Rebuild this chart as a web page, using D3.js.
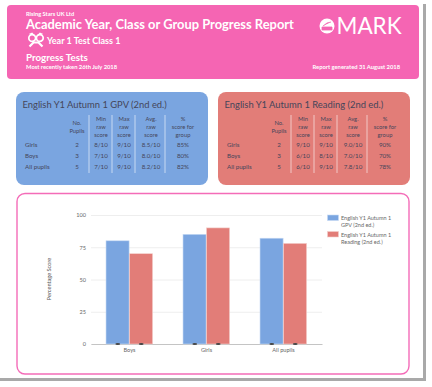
<!DOCTYPE html>
<html lang="en">
<head>
  <meta charset="UTF-8">
  <script src="https://d3js.org/d3.v7.min.js"></script>
  <title>Progress Report</title>
</head>
<body style="margin:0;background:#fff;overflow:hidden;">
  <div id="chart"></div>
  <script>
    // chart data
    const groups = ["Boys", "Girls", "All pupils"];
    const gpvScores = [80, 85, 82];
    const readingScores = [70, 90, 78];
    const yTicks = [0, 25, 50, 75, 100];
    const legendLines = [
      ["English Y1 Autumn 1", "GPV (2nd ed.)"],
      ["English Y1 Autumn 1", "Reading (2nd ed.)"]
    ];

    // table data
    const tableHead = [["No.", "Pupils"], ["Min", "raw", "score"], ["Max", "raw", "score"], ["Avg.", "raw", "score"], ["%", "score for", "group"]];
    const rowNames = ["Girls", "Boys", "All pupils"];
    const gpvRows = [
      ["2", "8/10", "9/10", "8.5/10", "85%"],
      ["3", "7/10", "9/10", "8.0/10", "80%"],
      ["5", "7/10", "9/10", "8.2/10", "82%"]
    ];
    const readingRows = [
      ["2", "9/10", "9/10", "9.0/10", "90%"],
      ["3", "6/10", "8/10", "7.0/10", "70%"],
      ["5", "6/10", "9/10", "7.8/10", "78%"]
    ];

    const font = "Lato, 'Noto Sans', sans-serif";
    const pink = "#f565b3";
    const blue = "#7aa5e0";
    const red = "#e27d78";
    const ink = "#45455a";

    const svg = d3.select("#chart").append("svg")
        .attr("width", 432)
        .attr("height", 387)
        .style("display", "block")
        .attr("font-family", font);

    // page shadow
    svg.append("rect").attr("x", 423).attr("y", 4).attr("width", 3).attr("height", 376).attr("fill", "#a9a9a9");
    svg.append("rect").attr("x", 0).attr("y", 378).attr("width", 426).attr("height", 3).attr("fill", "#a9a9a9");

    // header
    svg.append("rect").attr("x", 7).attr("y", 5).attr("width", 196 + 216).attr("height", 74).attr("rx", 4).attr("fill", pink);

    function label(parent, str, x, y, size, opts = {}) {
      return parent.append("text")
          .text(str)
          .attr("x", x)
          .attr("y", y)
          .attr("font-size", size + "px")
          .attr("font-weight", opts.weight || "normal")
          .attr("text-anchor", opts.anchor || "start")
          .attr("fill", opts.fill || "#fff");
    }

    label(svg, "Rising Stars UK Ltd", 26, 16, 5.7, {weight: "bold"});
    label(svg, "Academic Year, Class or Group Progress Report", 26, 28.5, 12.9, {weight: "bold"});
    label(svg, "Year 1 Test Class 1", 47, 44, 9, {weight: "bold"});
    label(svg, "Progress Tests", 26, 60.5, 9.8, {weight: "bold"});
    label(svg, "Most recently taken 26th July 2018", 26, 69, 5.8, {weight: "bold"});
    label(svg, "Report generated 31 August 2018", 400, 69, 5.8, {weight: "bold", anchor: "end"});
    label(svg, "MARK", 336.5, 33.5, 22.5);

    // logo mark
    svg.append("circle").attr("cx", 327).attr("cy", 26).attr("r", 7.5).attr("fill", "#fff");
    svg.append("path").attr("d", "M322 27h10v3h-10zM323 26l4-3 4-1").attr("fill", pink).attr("stroke", pink).attr("stroke-width", 0.8);

    // class icon, two heads
    const icon = svg.append("g").attr("transform", "translate(36,39)");
    [-3.8, 3.8].forEach(dx => {
      icon.append("circle").attr("cx", dx).attr("cy", -1).attr("r", 3.4).attr("fill", "none").attr("stroke", "#fff").attr("stroke-width", 1.7);
      icon.append("path").attr("d", `M${dx * 1.9} -5L${dx} -6.5L${dx * 0.2} -3Z`).attr("fill", "#fff");
    });
    icon.append("path").attr("d", "M-6.5 7.5L-2.5 3.5L2.5 3.5L6.5 7.5").attr("fill", "none").attr("stroke", "#fff").attr("stroke-width", 2.2);

    // score cards
    const colX = [61, 85, 108, 135, 167];
    const dividerX = [73, 96, 119, 149];
    const rowY = [147, 158, 169];

    function card(x, color, title, rows) {
      const g = svg.append("g").attr("transform", `translate(${x},0)`);
      g.append("rect").attr("x", 0).attr("y", 92).attr("width", 192).attr("height", 93).attr("rx", 8).attr("fill", color);
      label(g, title, 6.5, 108, 9.4, {fill: ink});
      tableHead.forEach((lines, i) => {
        lines.forEach((l, j) => {
          label(g, l, colX[i], (lines.length === 2 ? 125 : 121) + j * 8, 5.8, {fill: ink, anchor: "middle"});
        });
      });
      g.selectAll(".div").data(dividerX).join("line")
          .attr("x1", d => d).attr("x2", d => d)
          .attr("y1", 115).attr("y2", 173)
          .attr("stroke", "#fff").attr("stroke-opacity", 0.65).attr("stroke-width", 0.9);
      rowNames.forEach((n, r) => {
        label(g, n, 9, rowY[r], 6.2, {fill: ink});
        rows[r].forEach((v, i) => label(g, v, colX[i], rowY[r], 6.2, {fill: ink, anchor: "middle"}));
      });
    }
    card(16, blue, "English Y1 Autumn 1 GPV (2nd ed.)", gpvRows);
    card(218, red, "English Y1 Autumn 1 Reading (2nd ed.)", readingRows);

    // bar chart frame
    svg.append("rect").attr("x", 17).attr("y", 193.5).attr("width", 392).attr("height", 180.5).attr("rx", 8)
        .attr("fill", "#fff").attr("stroke", "#f46cb8").attr("stroke-width", 1.4);

    const x = d3.scaleBand().domain(groups).range([91, 322]).paddingInner(0.39).paddingOuter(0.195);
    const series = d3.scaleBand().domain([0, 1]).range([0, x.bandwidth()]);
    const y = d3.scaleLinear().domain([0, 100]).range([344, 215]);

    const yAxis = svg.append("g")
        .attr("transform", "translate(91,0)")
        .call(d3.axisLeft(y).tickValues(yTicks).tickSize(-231).tickPadding(5));
    yAxis.select(".domain").remove();
    yAxis.selectAll("line").attr("stroke", "#eeeeee");
    yAxis.selectAll("text").attr("font-size", "5.6px").attr("font-family", font).attr("fill", "#666");

    const xAxis = svg.append("g")
        .attr("transform", "translate(0,344)")
        .call(d3.axisBottom(x).tickSize(0).tickPadding(4));
    xAxis.select(".domain").attr("stroke", "#c4c4c4").attr("stroke-width", 1.2);
    xAxis.selectAll("text").attr("font-size", "5.6px").attr("font-family", font).attr("fill", "#666");

    [[gpvScores, blue, "#c6d9f3"], [readingScores, red, "#f3cfcc"]].forEach(([vals, fill, edge], s) => {
      const cx = i => x(groups[i]) + series(s);
      svg.append("g").selectAll("rect").data(vals).join("rect")
          .attr("x", (d, i) => cx(i))
          .attr("y", d => y(d))
          .attr("width", series.bandwidth() - 0.4)
          .attr("height", d => y(0) - y(d))
          .attr("fill", fill)
          .attr("stroke", edge)
          .attr("stroke-width", 0.6);
      // small marks on the baseline
      svg.append("g").selectAll("ellipse").data(vals).join("ellipse")
          .attr("cx", (d, i) => cx(i) + series.bandwidth() / 2)
          .attr("cy", y(0))
          .attr("rx", 2.4).attr("ry", 1)
          .attr("fill", "#444");
    });

    svg.append("text")
        .text("Percentage Score")
        .attr("transform", "translate(51,279) rotate(-90)")
        .attr("text-anchor", "middle")
        .attr("font-size", "5.6px")
        .attr("fill", "#555");

    // legend
    const legendY = [215, 231.5];
    [[blue, "#c6d9f3"], [red, "#f3cfcc"]].forEach(([fill, edge], i) => {
      svg.append("rect").attr("x", 327.5).attr("y", legendY[i]).attr("width", 11).attr("height", 5.5)
          .attr("fill", fill).attr("stroke", edge).attr("stroke-width", 0.6);
      legendLines[i].forEach((l, j) => {
        label(svg, l, 341, legendY[i] + 5 + j * 7.3, 5.5, {fill: "#666"});
      });
    });
  </script>
</body>
</html>
